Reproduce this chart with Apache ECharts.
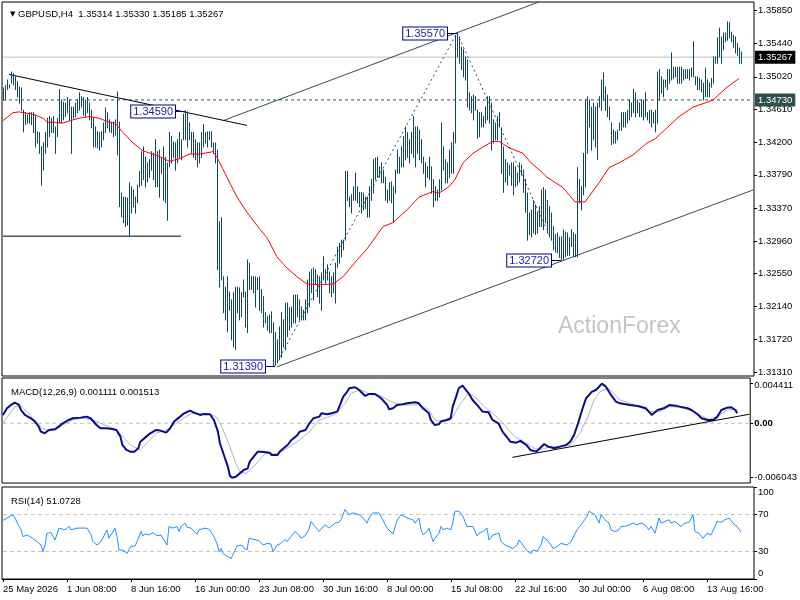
<!DOCTYPE html>
<html><head><meta charset="utf-8">
<script src="https://cdn.jsdelivr.net/npm/echarts@6/dist/echarts.min.js"></script>
<style>html,body{margin:0;padding:0;background:#fff}#c{width:800px;height:600px}</style>
</head><body><div id="c"></div>
<script>
// ---------- texts ----------
const symbolTitle = 'GBPUSD,H4  1.35314 1.35330 1.35185 1.35267';
const macdTitle = 'MACD(12,26,9) 0.001111 0.001513';
const rsiTitle = 'RSI(14) 51.0728';
const watermark = 'ActionForex';
const tickLabels = ['25 May 2026','1 Jun 08:00','8 Jun 16:00','16 Jun 00:00','23 Jun 08:00','30 Jun 16:00','8 Jul 00:00','15 Jul 08:00','22 Jul 16:00','30 Jul 00:00','6 Aug 08:00','13 Aug 16:00'];
const priceTicks = [1.35850,1.35440,1.35020,1.34610,1.34200,1.33790,1.33370,1.32960,1.32550,1.32140,1.31720,1.31310];
const macdTicks = [0.004411, 0, -0.006043];
const rsiTicks = [0, 30, 70, 100];
const currentPrice = 1.35267;
const levelPrice = 1.34730;

// ---------- H4 bars (high / low) ----------
const highs = [
1.3488,1.3491,1.3498,1.3492,1.3508,1.3506,1.3502,1.3496,1.3489,1.3488,
1.3460,1.3457,1.3454,1.3457,1.3457,1.3457,1.3454,1.3433,1.3432,1.3414,
1.3419,1.3432,1.3450,1.3452,1.3450,1.3452,1.3439,1.3450,1.3486,1.3473,
1.3470,1.3469,1.3476,1.3473,1.3464,1.3464,1.3469,1.3473,1.3482,1.3477,
1.3476,1.3473,1.3476,1.3469,1.3460,1.3450,1.3439,1.3433,1.3432,1.3433,
1.3444,1.3463,1.3457,1.3448,1.3445,1.3445,1.3448,1.3483,1.3445,1.3356,
1.3351,1.3351,1.3350,1.3369,1.3364,1.3360,1.3351,1.3366,1.3383,1.3408,
1.3414,1.3401,1.3394,1.3398,1.3408,1.3406,1.3423,1.3408,1.3410,1.3401,
1.3414,1.3401,1.3394,1.3432,1.3427,1.3420,1.3419,1.3423,1.3432,1.3423,
1.3455,1.3459,1.3458,1.3444,1.3432,1.3432,1.3423,1.3419,1.3419,1.3432,
1.3442,1.3432,1.3433,1.3433,1.3433,1.3419,1.3419,1.3410,1.3320,1.3325,
1.3251,1.3238,1.3251,1.3232,1.3222,1.3231,1.3238,1.3238,1.3237,1.3231,
1.3247,1.3232,1.3272,1.3268,1.3251,1.3251,1.3251,1.3250,1.3251,1.3235,
1.3226,1.3206,1.3201,1.3203,1.3207,1.3193,1.3181,1.3172,1.3188,1.3206,
1.3197,1.3218,1.3218,1.3212,1.3213,1.3228,1.3228,1.3228,1.3222,1.3213,
1.3209,1.3222,1.3247,1.3257,1.3260,1.3262,1.3260,1.3253,1.3251,1.3256,
1.3276,1.3260,1.3266,1.3257,1.3251,1.3256,1.3268,1.3288,1.3293,1.3297,
1.3297,1.3383,1.3383,1.3351,1.3354,1.3364,1.3381,1.3364,1.3357,1.3357,
1.3356,1.3351,1.3351,1.3364,1.3373,1.3398,1.3400,1.3401,1.3389,1.3394,
1.3385,1.3376,1.3360,1.3369,1.3370,1.3364,1.3385,1.3410,1.3401,1.3414,
1.3427,1.3439,1.3432,1.3423,1.3432,1.3452,1.3439,1.3439,1.3435,1.3423,
1.3401,1.3394,1.3389,1.3401,1.3389,1.3373,1.3364,1.3360,1.3373,1.3444,
1.3414,1.3398,1.3394,1.3410,1.3419,1.3432,1.3554,1.3557,1.3552,1.3539,
1.3536,1.3527,1.3523,1.3482,1.3477,1.3479,1.3477,1.3460,1.3457,1.3457,
1.3452,1.3464,1.3477,1.3477,1.3469,1.3448,1.3444,1.3452,1.3457,1.3438,
1.3414,1.3398,1.3394,1.3391,1.3394,1.3394,1.3389,1.3381,1.3394,1.3391,
1.3385,1.3373,1.3356,1.3331,1.3335,1.3347,1.3341,1.3332,1.3339,1.3360,
1.3363,1.3360,1.3347,1.3339,1.3331,1.3314,1.3304,1.3306,1.3301,1.3301,
1.3310,1.3307,1.3306,1.3300,1.3310,1.3306,1.3304,1.3388,1.3373,1.3364,
1.3406,1.3473,1.3477,1.3473,1.3464,1.3469,1.3464,1.3469,1.3477,1.3498,
1.3507,1.3489,1.3479,1.3464,1.3444,1.3435,1.3433,1.3435,1.3444,1.3457,
1.3457,1.3457,1.3460,1.3473,1.3469,1.3486,1.3482,1.3473,1.3469,1.3473,
1.3473,1.3482,1.3457,1.3460,1.3460,1.3457,1.3460,1.3508,1.3511,1.3502,
1.3498,1.3498,1.3511,1.3511,1.3532,1.3514,1.3514,1.3514,1.3514,1.3514,
1.3511,1.3511,1.3511,1.3511,1.3513,1.3546,1.3502,1.3502,1.3500,1.3498,
1.3494,1.3513,1.3498,1.3494,1.3500,1.3527,1.3527,1.3551,1.3563,1.3552,
1.3557,1.3557,1.3571,1.3570,1.3558,1.3554,1.3552,1.3544,1.3538,1.35330
];
const lows = [
1.3473,1.3473,1.3486,1.3488,1.3494,1.3492,1.3486,1.3477,1.3469,1.3460,
1.3433,1.3442,1.3444,1.3444,1.3442,1.3432,1.3414,1.3419,1.3406,1.3366,
1.3385,1.3406,1.3414,1.3427,1.3432,1.3432,1.3406,1.3427,1.3444,1.3444,
1.3448,1.3452,1.3457,1.3448,1.3406,1.3450,1.3452,1.3457,1.3460,1.3464,
1.3454,1.3452,1.3457,1.3448,1.3438,1.3414,1.3414,1.3413,1.3410,1.3414,
1.3423,1.3432,1.3438,1.3433,1.3432,1.3427,1.3429,1.3404,1.3339,1.3326,
1.3319,1.3314,1.3316,1.3303,1.3331,1.3339,1.3331,1.3344,1.3364,1.3366,
1.3373,1.3364,1.3370,1.3376,1.3385,1.3373,1.3364,1.3364,1.3351,1.3381,
1.3347,1.3344,1.3322,1.3389,1.3394,1.3401,1.3385,1.3394,1.3401,1.3398,
1.3423,1.3423,1.3414,1.3423,1.3406,1.3401,1.3398,1.3389,1.3394,1.3401,
1.3414,1.3419,1.3414,1.3423,1.3414,1.3406,1.3394,1.3260,1.3238,1.3247,
1.3206,1.3197,1.3182,1.3209,1.3172,1.3163,1.3160,1.3206,1.3197,1.3201,
1.3226,1.3188,1.3181,1.3235,1.3235,1.3231,1.3213,1.3235,1.3209,1.3206,
1.3188,1.3193,1.3184,1.3181,1.3181,1.3139,1.3140,1.3143,1.3147,1.3150,
1.3163,1.3159,1.3176,1.3184,1.3188,1.3193,1.3193,1.3201,1.3197,1.3197,
1.3197,1.3197,1.3206,1.3213,1.3231,1.3222,1.3241,1.3226,1.3218,1.3209,
1.3247,1.3243,1.3247,1.3231,1.3226,1.3231,1.3218,1.3263,1.3268,1.3276,
1.3285,1.3297,1.3347,1.3339,1.3331,1.3347,1.3347,1.3344,1.3339,1.3331,
1.3335,1.3337,1.3326,1.3326,1.3347,1.3356,1.3373,1.3376,1.3376,1.3369,
1.3369,1.3347,1.3344,1.3347,1.3344,1.3320,1.3356,1.3381,1.3381,1.3389,
1.3389,1.3398,1.3401,1.3394,1.3406,1.3401,1.3389,1.3406,1.3398,1.3394,
1.3381,1.3364,1.3376,1.3373,1.3356,1.3339,1.3347,1.3347,1.3351,1.3360,
1.3385,1.3369,1.3369,1.3376,1.3381,1.3381,1.3419,1.3527,1.3519,1.3511,
1.3502,1.3498,1.3464,1.3460,1.3457,1.3448,1.3460,1.3425,1.3427,1.3439,
1.3439,1.3444,1.3448,1.3444,1.3410,1.3419,1.3423,1.3423,1.3439,1.3381,
1.3357,1.3370,1.3366,1.3379,1.3366,1.3354,1.3364,1.3366,1.3370,1.3379,
1.3357,1.3332,1.3297,1.3304,1.3301,1.3306,1.3304,1.3306,1.3314,1.3314,
1.3310,1.3319,1.3306,1.3301,1.3297,1.3285,1.3282,1.3282,1.3276,1.3272,
1.3273,1.3276,1.3278,1.3278,1.3289,1.3276,1.3276,1.3276,1.3344,1.3335,
1.3354,1.3364,1.3406,1.3439,1.3410,1.3423,1.3414,1.3398,1.3464,1.3460,
1.3473,1.3460,1.3452,1.3448,1.3417,1.3419,1.3419,1.3423,1.3435,1.3435,
1.3439,1.3439,1.3444,1.3448,1.3452,1.3457,1.3452,1.3457,1.3452,1.3452,
1.3448,1.3452,1.3448,1.3444,1.3439,1.3444,1.3433,1.3444,1.3473,1.3482,
1.3477,1.3489,1.3486,1.3494,1.3498,1.3500,1.3502,1.3494,1.3494,1.3494,
1.3498,1.3500,1.3500,1.3498,1.3502,1.3502,1.3492,1.3486,1.3486,1.3483,
1.3473,1.3477,1.3477,1.3477,1.3489,1.3494,1.3519,1.3519,1.3527,1.3519,
1.3536,1.3546,1.3548,1.3551,1.3546,1.3539,1.3532,1.3529,1.3519,1.35185
];

// ---------- moving average (red), read as [bar index, price] ----------
const maLine = [[0,1.3447],[5,1.3457],[8,1.3458],[15,1.3455],[20,1.3450],[22,1.3445],[25,1.3445],[30,1.3444],[35,1.3448],[38,1.3450],[43,1.3452],[48,1.3450],[53,1.3445],[56,1.3444],[60,1.3432],[65,1.3419],[70,1.3409],[75,1.3405],[80,1.3400],[83,1.3396],[88,1.3399],[93,1.3405],[98,1.3405],[105,1.3408],[107,1.3401],[112,1.3376],[117,1.3351],[122,1.3332],[128,1.3312],[132,1.3300],[137,1.3276],[142,1.3262],[147,1.3251],[152,1.3242],[158,1.3241],[165,1.3242],[170,1.3251],[177,1.3272],[182,1.3286],[190,1.3314],[195,1.3319],[202,1.3335],[208,1.3351],[215,1.3358],[218,1.3356],[223,1.3364],[226,1.3373],[230,1.3394],[235,1.3406],[240,1.3414],[245,1.3421],[248,1.3421],[253,1.3413],[260,1.3406],[264,1.3394],[270,1.3381],[272,1.3376],[280,1.3363],[286,1.3345],[291,1.3345],[298,1.3369],[303,1.3388],[308,1.3394],[315,1.3404],[322,1.3419],[326,1.3424],[332,1.3438],[338,1.3452],[345,1.3464],[352,1.3470],[355,1.3473],[362,1.3489],[367,1.3498],[368,1.3500]];

// ---------- drawn objects ----------
const downTrend = [[3,1.3505],[122,1.3441]];
const supportLine = [[0,1.3302],[89,1.3302]];
const channelUpper = [[110,1.3447],[375,1.3697]];
const channelLower = [[137,1.3138],[375,1.3360]];
const swingPath = [[136,1.3139],[227,1.3557],[279,1.3272]];
const currentLine = [[0,currentPrice],[375,currentPrice]];
const levelLine = [[0,levelPrice],[375,levelPrice]];
const annIdx = [227, 91, 136, 279];
const annPrice = [1.3557, 1.3459, 1.3139, 1.3272];
const annText = ['1.35570','1.34590','1.31390','1.32720'];

// ---------- MACD ----------
const macdLine = [[0,0.00093],[2,0.00167],[4,0.00204],[6,0.00230],[8,0.00204],[9,0.00148],[11,0.00093],[14,0.00056],[16,0.00019],[18,-0.00037],[19,-0.00093],[21,-0.00111],[23,-0.00074],[24,-0.00056],[26,-0.00067],[28,-0.00037],[30,0],[33,0.00037],[35,0.00056],[39,0.00063],[42,0.00074],[44,0.00056],[47,-0.00019],[49,-0.00056],[52,-0.00056],[55,-0.00063],[57,-0.00074],[59,-0.00148],[60,-0.00241],[62,-0.00296],[64,-0.00315],[66,-0.00315],[68,-0.00278],[69,-0.00204],[72,-0.00148],[74,-0.00111],[77,-0.00074],[79,-0.00081],[82,-0.00104],[84,-0.00056],[86,0.00019],[89,0.00074],[91,0.00111],[94,0.00141],[96,0.00119],[99,0.00093],[101,0.00104],[104,0.00100],[106,0.00037],[108,-0.00093],[109,-0.00222],[111,-0.00352],[113,-0.00481],[114,-0.00580],[115,-0.00604],[117,-0.00593],[119,-0.00556],[121,-0.00519],[123,-0.00500],[124,-0.00426],[126,-0.00370],[128,-0.00315],[130,-0.00315],[134,-0.00326],[135,-0.00352],[138,-0.00352],[139,-0.00315],[141,-0.00278],[143,-0.00241],[145,-0.00185],[148,-0.00130],[149,-0.00093],[152,-0.00074],[154,0],[156,0.00056],[159,0.00074],[160,0.00111],[163,0.00100],[165,0.00111],[168,0.00130],[169,0.00185],[171,0.00296],[173,0.00352],[174,0.00389],[177,0.00400],[179,0.00370],[182,0.00304],[184,0.00326],[187,0.00326],[188,0.00315],[190,0.00278],[193,0.00204],[194,0.00156],[196,0.00167],[198,0.00204],[201,0.00211],[203,0.00222],[207,0.00233],[209,0.00222],[211,0.00167],[214,0.00111],[215,0.00037],[217,-0.00019],[219,-0.00011],[220,0.00019],[223,0.00037],[225,0.00056],[226,0.00185],[228,0.00315],[229,0.00389],[231,0.00419],[232,0.00389],[234,0.00333],[236,0.00259],[239,0.00185],[241,0.00130],[244,0.00122],[246,0.00037],[249,0],[251,-0.00093],[253,-0.00148],[255,-0.00204],[258,-0.00215],[260,-0.00196],[263,-0.00241],[265,-0.00296],[268,-0.00315],[269,-0.00296],[272,-0.00230],[274,-0.00259],[277,-0.00278],[280,-0.00259],[283,-0.00241],[285,-0.00204],[287,-0.00130],[289,0],[291,0.00148],[293,0.00278],[296,0.00352],[298,0.00370],[301,0.00441],[303,0.00407],[305,0.00333],[308,0.00241],[310,0.00222],[315,0.00204],[319,0.00193],[323,0.00167],[326,0.00093],[329,0.00148],[332,0.00167],[335,0.00204],[338,0.00196],[340,0.00185],[344,0.00167],[346,0.00148],[349,0.00100],[351,0.00056],[354,0.00037],[357,0.00037],[359,0.00074],[361,0.00148],[364,0.00174],[366,0.00178],[368,0.00148],[369,0.00111]];
const signalLine = [[0,0],[6,0.00185],[9,0.00193],[12,0.00130],[15,0.00056],[20,-0.00056],[23,-0.00085],[26,-0.00074],[30,-0.00019],[35,0.00037],[40,0.00056],[45,0.00037],[49,0],[54,-0.00044],[57,-0.00074],[61,-0.00167],[64,-0.00241],[69,-0.00296],[73,-0.00204],[77,-0.00111],[82,-0.00074],[87,0],[92,0.00074],[95,0.00111],[99,0.00104],[104,0.00104],[107,0.00074],[110,-0.00037],[114,-0.00259],[117,-0.00444],[119,-0.00537],[122,-0.00556],[125,-0.00500],[129,-0.00407],[132,-0.00333],[137,-0.00341],[140,-0.00315],[144,-0.00259],[149,-0.00185],[154,-0.00093],[159,0.00037],[164,0.00074],[167,0.00104],[172,0.00222],[175,0.00333],[179,0.00370],[182,0.00352],[185,0.00315],[189,0.00315],[192,0.00278],[195,0.00241],[199,0.00210],[203,0.00204],[209,0.00204],[214,0.00148],[217,0.00037],[220,0.00019],[225,0.00037],[230,0.00222],[234,0.00333],[237,0.00296],[242,0.00185],[247,0.00093],[252,-0.00019],[257,-0.00148],[262,-0.00204],[267,-0.00278],[270,-0.00296],[275,-0.00259],[280,-0.00259],[285,-0.00241],[290,-0.00111],[294,0.00074],[297,0.00259],[300,0.00352],[304,0.00389],[307,0.00333],[310,0.00259],[315,0.00222],[320,0.00185],[325,0.00130],[330,0.00130],[335,0.00185],[340,0.00178],[345,0.00148],[350,0.00093],[355,0.00044],[359,0.00074],[364,0.00148],[367,0.00156],[369,0.00151]];
const macdTrend = [[256,-0.00378],[375,0.00100]];
const macdZero = [[0,0],[375,0]];

// ---------- RSI ----------
const rsiLine = [[0,63.7],[2,66.3],[5,69.9],[6,66.3],[8,57.1],[9,53.4],[10,46.1],[12,47.9],[14,45.4],[17,40.6],[19,36.9],[20,29.6],[21,36.9],[22,49.8],[23,51.6],[24,50.5],[25,49.8],[26,42.4],[28,55.3],[29,53.4],[31,53.4],[33,57.1],[34,53.4],[37,55.3],[39,55.3],[42,55.3],[44,47.9],[45,40.6],[47,36.9],[49,40.6],[50,42.4],[52,53.4],[53,44.3],[54,42.4],[56,55.3],[57,46.1],[58,31.4],[59,29.6],[60,31.4],[62,27.7],[63,32.1],[64,35.8],[66,35.8],[67,40.6],[69,51.6],[70,46.8],[71,49.0],[73,47.9],[75,50.5],[77,46.8],[79,47.9],[80,49.0],[82,36.9],[83,57.1],[85,55.3],[87,57.1],[88,51.6],[89,57.1],[91,60.8],[92,56.4],[94,55.3],[97,48.7],[98,53.4],[101,55.3],[103,54.2],[105,47.9],[107,38.7],[108,29.6],[109,33.2],[110,27.7],[111,25.9],[114,22.2],[115,20.4],[117,35.8],[119,36.9],[120,35.8],[122,31.4],[123,44.3],[125,43.2],[128,41.7],[130,36.9],[132,38.7],[134,38.0],[135,29.6],[137,36.9],[139,38.7],[141,43.2],[142,40.6],[144,46.1],[146,51.6],[148,47.9],[149,44.3],[151,46.8],[153,54.2],[154,62.6],[156,57.1],[158,51.6],[159,49.8],[161,58.9],[163,55.3],[164,53.4],[166,60.8],[168,61.5],[169,64.4],[171,75.5],[173,69.9],[175,71.8],[178,69.9],[180,66.3],[182,60.8],[183,66.3],[185,71.8],[188,71.8],[189,68.1],[192,55.3],[193,53.4],[195,49.0],[197,63.7],[198,65.2],[199,69.9],[200,68.1],[202,66.3],[203,68.1],[205,64.4],[206,60.8],[208,66.3],[209,53.4],[210,47.9],[212,51.6],[213,55.3],[215,40.6],[216,44.3],[218,49.8],[219,57.1],[220,53.4],[222,55.3],[224,53.4],[225,62.6],[226,73.6],[228,73.6],[230,68.1],[232,57.1],[233,55.3],[235,57.1],[237,46.8],[238,49.8],[240,51.6],[242,55.3],[243,42.4],[245,47.9],[248,49.8],[249,40.6],[251,36.9],[253,35.1],[255,33.2],[257,36.9],[258,42.4],[260,36.9],[262,30.7],[264,27.7],[265,31.4],[267,30.3],[269,36.9],[270,46.1],[272,42.4],[274,36.9],[275,33.2],[277,35.1],[279,38.7],[280,36.9],[282,36.9],[284,40.6],[285,38.7],[287,53.4],[289,58.9],[290,57.1],[292,68.1],[293,73.6],[294,71.8],[296,69.9],[298,60.8],[299,69.9],[301,64.4],[303,60.8],[304,53.4],[306,51.6],[308,53.4],[309,57.1],[312,57.8],[315,60.8],[317,58.9],[319,60.8],[321,58.9],[323,53.4],[324,57.1],[326,49.8],[328,66.3],[329,60.8],[331,62.6],[333,64.4],[334,60.8],[336,62.6],[339,57.1],[341,60.8],[343,61.5],[345,69.9],[346,51.6],[348,49.8],[349,51.6],[350,44.3],[352,49.8],[354,47.9],[356,57.1],[357,62.6],[359,61.5],[361,64.4],[363,66.3],[365,60.8],[367,57.1],[369,51.1]];
const rsiUpper = [[0,70],[375,70]];
const rsiLower = [[0,30],[375,30]];

// ---------- time categories (H4, weekdays only) ----------
const MONTHS = ['Jan','Feb','Mar','Apr','May','Jun','Jul','Aug','Sep','Oct','Nov','Dec'];
const startTime = Date.UTC(2026, 4, 25, 0, 0);
const slotCount = 376;
const categories = [];
for (let t = startTime; categories.length < slotCount; t += 4 * 3600 * 1000) {
  const d = new Date(t); const wd = d.getUTCDay();
  if (wd === 0 || wd === 6) continue;
  const hh = String(d.getUTCHours()).padStart(2, '0');
  categories.push(d.getUTCDate() + ' ' + MONTHS[d.getUTCMonth()] + ' ' + hh + ':00');
}

// ---------- chart ----------
const FONT = "'Liberation Sans', Arial, sans-serif";
const FS = 9.5;
const BAR = '#0f4566';
const SLATE = '#2f4f4f';
const chart = echarts.init(document.getElementById('c'), null, {renderer: 'canvas'});
const barData = highs.map((h, i) => [i, lows[i], h]);
const annData = annIdx.map((i, k) => [i, annPrice[k]]);

function catAxis(gi, showLabels) {
  return {
    type: 'category', gridIndex: gi, data: categories, boundaryGap: true,
    axisLine: {show: showLabels, lineStyle: {color: '#000', width: 1}},
    axisTick: {show: showLabels, interval: 31, alignWithLabel: true, length: 3, lineStyle: {color: '#000'}},
    axisLabel: {show: showLabels, interval: 31, align: 'left', margin: 5, color: '#000', fontSize: FS, fontFamily: FONT,
      hideOverlap: false,
      formatter: (v, idx) => (idx % 32 === 0 && tickLabels[idx / 32]) ? tickLabels[idx / 32] : ''},
    splitLine: {show: false}
  };
}
const labelBase = {color: '#000', fontSize: FS, fontFamily: FONT, margin: 4};
function hLine(data, color, type, z) {
  return {type: 'line', xAxisIndex: 0, yAxisIndex: 0, data: data, symbol: 'none', silent: true,
          lineStyle: {color: color, width: 1, type: type}, z: z};
}
function boxLabel(bg, value) {
  return {show: true, distance: 2, formatter: value.toFixed(5), backgroundColor: bg, color: '#fff',
          padding: [2, 3, 1, 3], fontSize: FS, fontFamily: FONT};
}

const option = {
  animation: false,
  backgroundColor: '#fff',
  title: [
    {left: 5, top: 4, text: '{t|▼} ' + symbolTitle,
     textStyle: {fontSize: FS, fontWeight: 'normal', color: '#000', fontFamily: FONT,
       rich: {t: {fontSize: 7, color: '#000', fontFamily: 'DejaVu Sans'}}}},
    {left: 6, top: 382, text: macdTitle, textStyle: {fontSize: FS, fontWeight: 'normal', color: '#000', fontFamily: FONT}},
    {left: 6, top: 491, text: rsiTitle, textStyle: {fontSize: FS, fontWeight: 'normal', color: '#000', fontFamily: FONT}},
    {left: 553, top: 310, text: watermark, textStyle: {fontSize: 23, fontWeight: 'normal', color: '#c4c4c4', fontFamily: FONT}}
  ],
  grid: [
    {left: 2, top: 2, width: 752, height: 374, show: true, borderColor: '#000', borderWidth: 1, backgroundColor: 'transparent'},
    {left: 2, top: 378, width: 752, height: 105, show: true, borderColor: '#000', borderWidth: 1, backgroundColor: 'transparent'},
    {left: 2, top: 487, width: 752, height: 92, show: true, borderColor: '#000', borderWidth: 1, backgroundColor: 'transparent'}
  ],
  xAxis: [catAxis(0, false), catAxis(1, false), catAxis(2, true)],
  yAxis: [
    {type: 'value', gridIndex: 0, position: 'right', min: 1.31265, max: 1.35959, scale: true,
     axisLine: {show: false}, splitLine: {show: false},
     axisTick: {show: true, length: 3, customValues: priceTicks, lineStyle: {color: '#000'}},
     axisLabel: Object.assign({customValues: priceTicks, formatter: v => v.toFixed(5)}, labelBase)},
    {type: 'value', gridIndex: 1, position: 'right', min: -0.00663, max: 0.00503,
     axisLine: {show: false}, splitLine: {show: false},
     axisTick: {show: true, length: 3, customValues: macdTicks, lineStyle: {color: '#000'}},
     axisLabel: Object.assign({customValues: macdTicks,
       formatter: v => v === 0 ? '{z|0.00}' : (v > 0 ? '{d|' + v.toFixed(6) + '}' : v.toFixed(6)),
       rich: {z: {fontWeight: 'bold', fontSize: FS, fontFamily: FONT, color: '#000'},
              d: {padding: [4, 0, 0, 0], fontSize: FS, fontFamily: FONT, color: '#000'}}}, labelBase)},
    {type: 'value', gridIndex: 2, position: 'right', min: 0, max: 100,
     axisLine: {show: false}, splitLine: {show: false},
     axisTick: {show: true, length: 3, customValues: rsiTicks, lineStyle: {color: '#000'}},
     axisLabel: Object.assign({customValues: rsiTicks,
       formatter: v => v === 100 ? '{d|100}' : (v === 0 ? '{u|0}' : '{n|' + v + '}'),
       rich: {d: {padding: [11, 0, 0, 0], fontSize: FS, fontFamily: FONT, color: '#000'},
              u: {padding: [0, 0, 11, 0], fontSize: FS, fontFamily: FONT, color: '#000'},
              n: {fontSize: FS, fontFamily: FONT, color: '#000'}}}, labelBase)}
  ],
  series: [
    // horizontal levels and drawn lines (under bars)
    Object.assign(hLine(currentLine, '#c0c0c0', 'solid', 1), {endLabel: boxLabel('#000', currentPrice)}),
    Object.assign(hLine(levelLine, SLATE, [3, 3], 1), {endLabel: boxLabel(SLATE, levelPrice)}),
    hLine(supportLine, '#000', 'solid', 2),
    hLine(channelUpper, SLATE, 'solid', 2),
    hLine(channelLower, SLATE, 'solid', 2),
    hLine(swingPath, SLATE, [2, 3], 2),
    hLine(downTrend, '#000', 'solid', 2),
    // price bars
    {type: 'custom', xAxisIndex: 0, yAxisIndex: 0, data: barData, clip: true, z: 3,
     encode: {x: 0, y: [1, 2]},
     renderItem: (params, api) => {
       const lo = api.coord([api.value(0), api.value(1)]);
       const hi = api.coord([api.value(0), api.value(2)]);
       const x = Math.round(lo[0]) + 0.5;
       return {type: 'line', shape: {x1: x, y1: lo[1] + 0.5, x2: x, y2: hi[1] - 0.5},
               style: {stroke: BAR, lineWidth: 1}};
     }},
    // moving average
    {type: 'line', xAxisIndex: 0, yAxisIndex: 0, data: maLine, symbol: 'none', lineStyle: {color: '#ff0000', width: 1}, z: 4},
    // price annotations
    {type: 'custom', xAxisIndex: 0, yAxisIndex: 0, data: annData, z: 6, clip: false,
     renderItem: (params, api) => {
       const p = api.coord([api.value(0), api.value(1)]);
       const bx = Math.round(p[0]) - 10;
       const by = Math.round(p[1]) + 0.5;
       return {type: 'group', children: [
         {type: 'line', shape: {x1: bx, y1: by, x2: p[0], y2: by}, style: {stroke: '#000080', lineWidth: 1}},
         {type: 'text', x: bx, y: by, style: {text: annText[params.dataIndex], align: 'right', verticalAlign: 'middle',
           fill: '#1c1ca8', font: '11px ' + FONT, backgroundColor: '#fff', borderColor: '#000080', borderWidth: 1, padding: [1, 2, 0, 2]}}
       ]};
     }},
    // MACD
    {type: 'line', xAxisIndex: 1, yAxisIndex: 1, data: macdZero, symbol: 'none', silent: true, lineStyle: {color: '#c0c0c0', type: [4, 3], width: 1}, z: 2},
    {type: 'line', xAxisIndex: 1, yAxisIndex: 1, data: signalLine, symbol: 'none', lineStyle: {color: '#b4b4b4', width: 1}, z: 3},
    {type: 'line', xAxisIndex: 1, yAxisIndex: 1, data: macdLine, symbol: 'none', lineStyle: {color: '#0a0a8c', width: 2}, z: 4},
    {type: 'line', xAxisIndex: 1, yAxisIndex: 1, data: macdTrend, symbol: 'none', lineStyle: {color: '#000', width: 1}, z: 5},
    // RSI
    {type: 'line', xAxisIndex: 2, yAxisIndex: 2, data: rsiUpper, symbol: 'none', silent: true, lineStyle: {color: '#c0c0c0', type: [4, 3], width: 1}, z: 2},
    {type: 'line', xAxisIndex: 2, yAxisIndex: 2, data: rsiLower, symbol: 'none', silent: true, lineStyle: {color: '#c0c0c0', type: [4, 3], width: 1}, z: 2},
    {type: 'line', xAxisIndex: 2, yAxisIndex: 2, data: rsiLine, symbol: 'none', lineStyle: {color: '#1e90ff', width: 1}, z: 4}
  ]
};
chart.setOption(option);
</script>
</body></html>
